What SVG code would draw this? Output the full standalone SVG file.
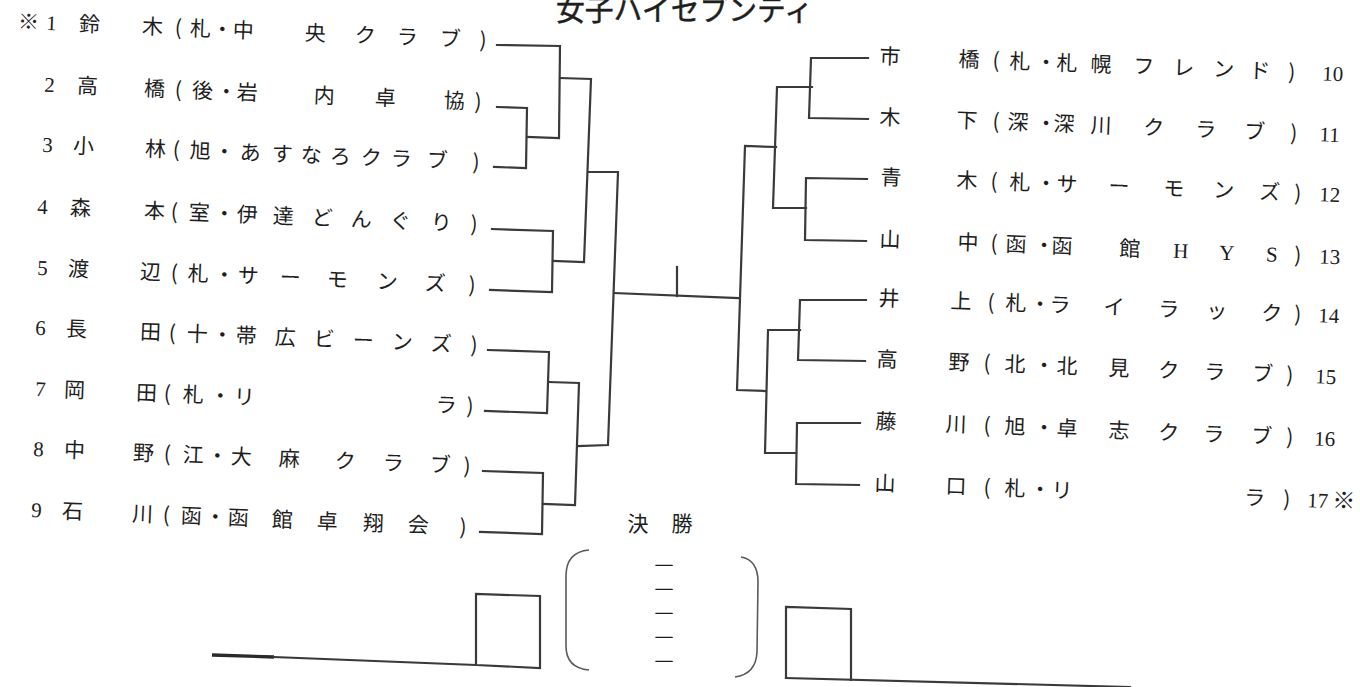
<svg xmlns="http://www.w3.org/2000/svg" width="1360" height="687" viewBox="0 0 1360 687">
<style>
text { fill:#1e1e1e; }
.j { font-family:"Noto Sans CJK JP", sans-serif; font-size:21px; text-anchor:middle; }
.n { font-family:"Liberation Serif", "Noto Sans CJK JP", serif; font-size:21px; text-anchor:middle; }
.t { font-family:"Noto Sans CJK JP", sans-serif; font-size:29px; stroke:#1e1e1e; stroke-width:0.5; }
.d { font-family:"Noto Sans CJK JP", sans-serif; font-size:15px; text-anchor:middle; }
.ln { fill:none; stroke:#3a3a3a; stroke-width:2.2; stroke-linejoin:miter; stroke-linecap:square; }
.thick { fill:none; stroke:#2a2a2a; stroke-width:3.4; }
.br { fill:none; stroke:#5a5a5a; stroke-width:1.6; }
</style>
<rect width="1360" height="687" fill="#ffffff"/>

<g id="title"><text class="t" x="556" y="21" textLength="257" lengthAdjust="spacingAndGlyphs">女子ハイセブンティ</text></g>

<!-- left entries -->
<g id="p1" transform="rotate(2.3 497 45)">
<text class="j" x="28" y="48">※</text><text class="n" x="51" y="48">1</text>
<text class="j" x="89" y="48">鈴</text>
<text class="j" x="152 178 200 222 243 315 365 407 450 483" y="48">木(札・中央クラブ)</text>
</g>
<g id="p2" transform="rotate(2.3 497 107)">
<text class="n" x="49" y="110">2</text><text class="j" x="87" y="110">高</text>
<text class="j" x="154 178 202 226 247 324 385 454 478" y="110">橋(後・岩内卓協)</text>
</g>
<g id="p3" transform="rotate(2.3 494 167)">
<text class="n" x="47" y="170">3</text><text class="j" x="83" y="170">小</text>
<text class="j" x="155 176 200 224 250 282 311 340 371 401 437 476" y="170">林(旭・あすなろクラブ)</text>
</g>
<g id="p4" transform="rotate(2.3 492 229)">
<text class="n" x="42" y="232">4</text><text class="j" x="80" y="232">森</text>
<text class="j" x="154 174 199 224 247 283 322 361 400 441 474" y="232">本(室・伊達どんぐり)</text>
</g>
<g id="p5" transform="rotate(2.3 490 290)">
<text class="n" x="42" y="293">5</text><text class="j" x="78" y="293">渡</text>
<text class="j" x="150 174 198 224 248 290 337 387 435 472" y="293">辺(札・サーモンズ)</text>
</g>
<g id="p6" transform="rotate(2.3 488 350)">
<text class="n" x="40" y="353">6</text><text class="j" x="76" y="353">長</text>
<text class="j" x="150 172 197 222 246 285 324 363 402 441 474" y="353">田(十・帯広ビーンズ)</text>
</g>
<g id="p7" transform="rotate(2.3 485 411)">
<text class="n" x="40" y="414">7</text><text class="j" x="74" y="414">岡</text>
<text class="j" x="146 167 193 220 244 446 470" y="414">田(札・リラ)</text>
</g>
<g id="p8" transform="rotate(2.3 483 471)">
<text class="n" x="38" y="474">8</text><text class="j" x="74" y="474">中</text>
<text class="j" x="143 167 193 217 241 289 345 393 440 467" y="474">野(江・大麻クラブ)</text>
</g>
<g id="p9" transform="rotate(2.3 480 532)">
<text class="n" x="36" y="535">9</text><text class="j" x="72" y="535">石</text>
<text class="j" x="142 166 191 215 238 282 327 373 418 463" y="535">川(函・函館卓翔会)</text>
</g>

<!-- right entries -->
<g id="p10" transform="rotate(2.2 868 58)">
<text class="j" x="890" y="63">市</text>
<text class="j" x="969 996 1020 1046 1067 1101 1144 1184 1224 1260 1292" y="63">橋(札・札幌フレンド)</text>
<text class="n" x="1333" y="63">10</text>
</g>
<g id="p11" transform="rotate(2.2 868 119)">
<text class="j" x="890" y="124">木</text>
<text class="j" x="967 996 1018 1046 1064 1101 1154 1206 1255 1294" y="124">下(深・深川クラブ)</text>
<text class="n" x="1330" y="124">11</text>
</g>
<g id="p12" transform="rotate(2.2 867 179)">
<text class="j" x="891" y="184">青</text>
<text class="j" x="967 994 1020 1046 1067 1119 1174 1224 1270 1298" y="184">木(札・サーモンズ)</text>
<text class="n" x="1330" y="184">12</text>
</g>
<g id="p13" transform="rotate(2.2 866 241)">
<text class="j" x="890" y="246">山</text>
<text class="j" x="968 994 1016 1044 1062 1130 1181 1227 1272 1298" y="246">中(函・函館<tspan class="n">HYS</tspan>)</text>
<text class="n" x="1330" y="246">13</text>
</g>
<g id="p14" transform="rotate(2.2 866 300)">
<text class="j" x="889" y="305">井</text>
<text class="j" x="961 991 1016 1040 1060 1114 1169 1217 1272 1298" y="305">上(札・ライラック)</text>
<text class="n" x="1329" y="305">14</text>
</g>
<g id="p15" transform="rotate(2.2 865 361)">
<text class="j" x="887" y="366">高</text>
<text class="j" x="959 987 1015 1044 1067 1119 1169 1215 1263 1290" y="366">野(北・北見クラブ)</text>
<text class="n" x="1326" y="366">15</text>
</g>
<g id="p16" transform="rotate(2.2 860 423)">
<text class="j" x="886" y="428">藤</text>
<text class="j" x="956 987 1015 1044 1067 1119 1169 1214 1262 1290" y="428">川(旭・卓志クラブ)</text>
<text class="n" x="1325" y="428">16</text>
</g>
<g id="p17" transform="rotate(2.2 859 485)">
<text class="j" x="885" y="490">山</text>
<text class="j" x="956 987 1015 1040 1062 1255 1287" y="490">口(札・リラ)</text>
<text class="n" x="1318" y="490">17</text><text class="j" x="1344" y="490" style="font-size:23px">※</text>
</g>

<!-- connectors -->
<g id="connectors">
<polyline class="ln" points="497,45 560,46 559,138 527,137"/>
<polyline class="ln" points="497,107 527,108 526,168 494,167"/>
<polyline class="ln" points="560,78 591,79 584,262 553,261"/>
<polyline class="ln" points="492,229 553,231 552,292 490,290"/>
<polyline class="ln" points="588,172 618,172 608,445 578,446"/>
<polyline class="ln" points="549,382 579,383 575,505 543,504"/>
<polyline class="ln" points="488,350 549,352 547,413 485,411"/>
<polyline class="ln" points="483,471 543,473 542,534 480,532"/>
<polyline class="ln" points="614,293 738,298"/>
<polyline class="ln" points="677,267 677,296"/>
<polyline class="ln" points="776,147 745,146 737,390 765,391"/>
<polyline class="ln" points="812,87 777,87 773,208 806,208"/>
<polyline class="ln" points="868,58 811,58 809,118 868,119"/>
<polyline class="ln" points="867,179 806,178 805,240 866,241"/>
<polyline class="ln" points="800,330 768,330 765,453 796,453"/>
<polyline class="ln" points="866,300 800,300 798,360 865,361"/>
<polyline class="ln" points="860,423 797,423 796,484 859,485"/>
</g>

<!-- final -->
<g id="final">
<text class="j" x="638 682" y="531">決勝</text>
<path class="br" d="M589,550 Q566,552 566,576 L566,646 Q566,668 589,670"/>
<path class="br" d="M741,557 Q758,560 758,582 L757,652 Q756,674 735,677"/>
<text class="d" x="664" y="571" textLength="19" lengthAdjust="spacingAndGlyphs">一</text>
<text class="d" x="664" y="595" textLength="19" lengthAdjust="spacingAndGlyphs">一</text>
<text class="d" x="664" y="619" textLength="19" lengthAdjust="spacingAndGlyphs">一</text>
<text class="d" x="664" y="643" textLength="19" lengthAdjust="spacingAndGlyphs">一</text>
<text class="d" x="664" y="667" textLength="19" lengthAdjust="spacingAndGlyphs">一</text>
<line class="thick" x1="212" y1="655" x2="274" y2="657"/>
<polyline class="ln" points="274,657 476,665 540,668 540,596 476,594 476,665"/>
<polyline class="ln" points="786,678 786,607 851,609 851,680"/>
<polyline class="ln" points="786,678 1130,687"/>
</g>
</svg>
